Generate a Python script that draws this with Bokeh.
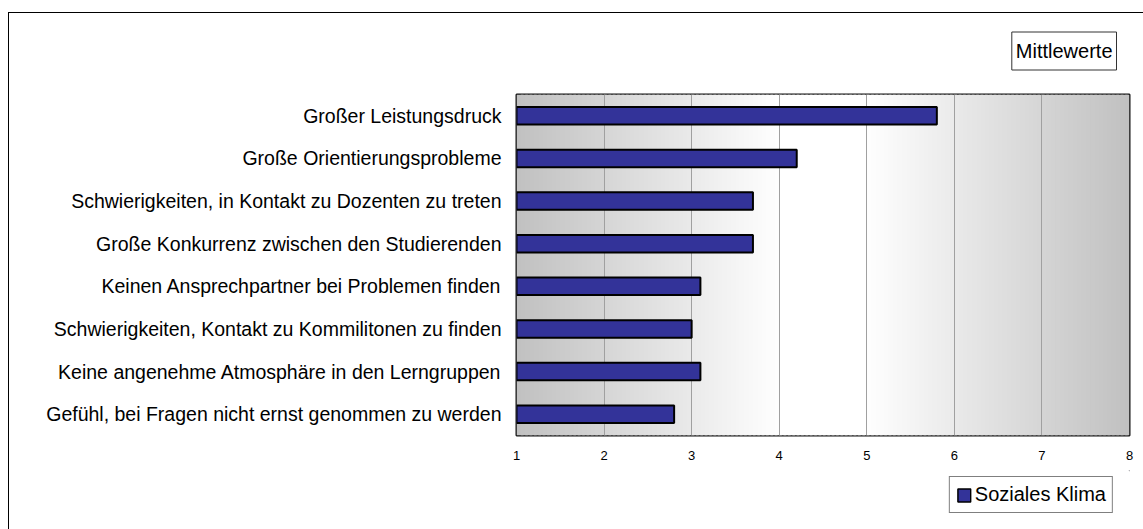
import numpy as np
from bokeh.plotting import figure
from bokeh.layouts import column
from bokeh.models import (Range1d, FixedTicker, Legend, LegendItem,
                          ColumnDataSource, InlineStyleSheet)
from bokeh.embed import file_html
from bokeh.resources import INLINE

# ---- data ----
categories = [
    "Großer Leistungsdruck",
    "Große Orientierungsprobleme",
    "Schwierigkeiten, in Kontakt zu Dozenten zu treten",
    "Große Konkurrenz zwischen den Studierenden",
    "Keinen Ansprechpartner bei Problemen finden",
    "Schwierigkeiten, Kontakt zu Kommilitonen zu finden",
    "Keine angenehme Atmosphäre in den Lerngruppen",
    "Gefühl, bei Fragen nicht ernst genommen zu werden",
]
values = [5.8, 4.2, 3.7, 3.7, 3.1, 3.0, 3.1, 2.8]
series_name = "Soziales Klima"
x_ticks = [1, 2, 3, 4, 5, 6, 7, 8]
title_text = "Mittlewerte"

FONT = "Liberation Sans"
BAR_FILL = "#333399"
n = len(categories)
ypos = [n - i - 0.5 for i in range(n)]  # first category on top

p = figure(
    width=1143, height=470,
    y_range=Range1d(0, n),
    x_range=Range1d(x_ticks[0], x_ticks[-1]),
    output_backend="svg", toolbar_location=None,
    min_border_left=516, min_border_right=14,
    min_border_top=94, min_border_bottom=35,
)

# background gradient (styling): grey at edges, white in the middle
nstrips = 140
edges = np.linspace(x_ticks[0], x_ticks[-1], nstrips + 1)
lefts, rights = edges[:-1], edges[1:]
step = edges[1] - edges[0]
cols = []
for c in (lefts + rights) / 2:
    if 4 <= c <= 5:
        v = 255
    elif c < 4:
        v = 192 + 63 * (c - 1) / 3
    else:
        v = 192 + 63 * (8 - c) / 3
    v = int(round(v))
    cols.append("#%02x%02x%02x" % (v, v, v))
bg = p.quad(left=lefts, right=np.minimum(rights + step * 0.6, x_ticks[-1]),
            bottom=0, top=n, fill_color=cols, line_color=None)
bg.level = "image"

src = ColumnDataSource(dict(y=ypos, val=values, cat=categories))
bars = p.hbar(y="y", left=x_ticks[0], right="val", height=0.41, source=src,
              fill_color=BAR_FILL, line_color="black", line_width=2)

# grid / frame
p.xgrid.ticker = FixedTicker(ticks=x_ticks)
p.xgrid.grid_line_color = "#a0a0a0"
p.ygrid.grid_line_color = None
p.outline_line_color = "#111111"
p.outline_line_width = 2
p.background_fill_color = "white"
p.border_fill_color = "white"

# axes
p.xaxis.ticker = FixedTicker(ticks=x_ticks)
p.xaxis.axis_line_color = None
p.xaxis.major_tick_line_color = None
p.xaxis.minor_tick_line_color = None
p.xaxis.major_label_standoff = 9
p.xaxis.major_label_text_font = FONT
p.xaxis.major_label_text_font_size = "13px"
p.xaxis.major_label_text_color = "black"

p.yaxis.ticker = FixedTicker(ticks=ypos)
p.yaxis.major_label_overrides = {y: c for y, c in zip(ypos, categories)}
p.yaxis.axis_line_color = None
p.yaxis.major_tick_line_color = None
p.yaxis.minor_tick_line_color = None
p.yaxis.major_tick_out = 0
p.yaxis.major_label_standoff = 15
p.yaxis.major_label_text_font = FONT
p.yaxis.major_label_text_font_size = "19.5px"
p.yaxis.major_label_text_color = "black"

# title box
p.title.text = title_text
p.title.align = "right"
p.title.text_font = FONT
p.title.text_font_size = "20px"
p.title.text_font_style = "normal"
p.title.text_color = "black"
p.title.border_line_color = "#333333"
p.title.border_line_width = 1
p.title.background_fill_color = "white"
p.title.padding = (4, 8)
p.title.offset = 13
p.title.standoff = 49

# legend strip under the chart
q = figure(width=1143, height=59, x_range=Range1d(0, 1), y_range=Range1d(0, 1),
           x_axis_type=None, y_axis_type=None,
           output_backend="svg", toolbar_location=None,
           min_border_left=0, min_border_right=0,
           min_border_top=0, min_border_bottom=0)
q.outline_line_color = None
q.grid.visible = False
q.background_fill_color = "white"
q.border_fill_color = "white"
# key renderer: one bar kept outside the strip's visible range, used only for the legend swatch
key = q.hbar(y=[5], left=[4], right=[5], height=0.5, fill_color=BAR_FILL,
             line_color="black", line_width=1.5)
legend = Legend(items=[LegendItem(label=series_name, renderers=[key])],
                location="bottom_right", orientation="vertical",
                border_line_color="black", border_line_width=1,
                background_fill_color="white", background_fill_alpha=1,
                padding=6, margin=16, spacing=0,
                glyph_width=16, glyph_height=16, label_standoff=3,
                label_text_font=FONT, label_text_font_size="20px",
                label_text_color="black", label_height=20)
q.add_layout(legend)

layout = column(p, q, spacing=0)
# outer chart frame (left and top edges, as in the reference)
layout.stylesheets = [InlineStyleSheet(css="""
:host { position: relative; }
:host::before {
  content: ""; position: absolute; left: 8px; top: 12px; right: 0; bottom: 0;
  border-left: 1.5px solid #000; border-top: 1.5px solid #000;
  pointer-events: none; z-index: 5;
}
""")]

open("out.html", "w").write(file_html(layout, INLINE))
